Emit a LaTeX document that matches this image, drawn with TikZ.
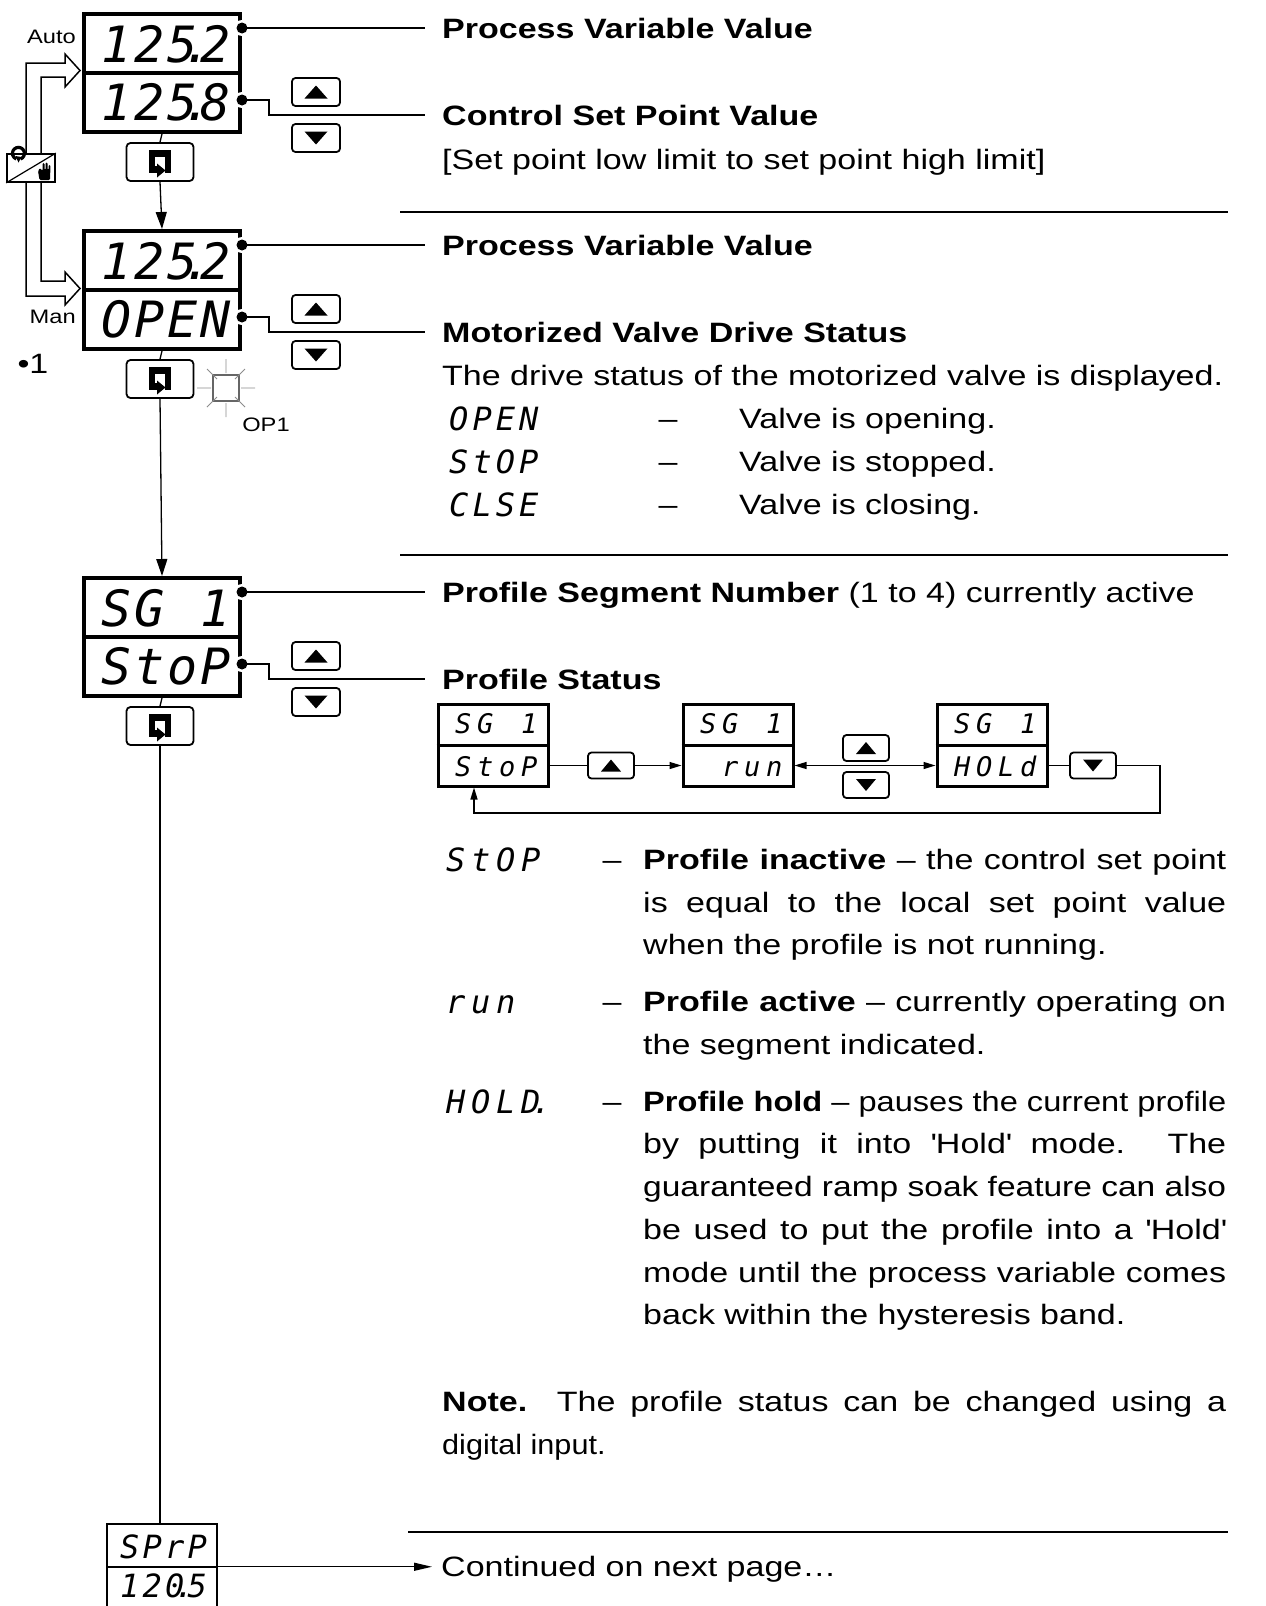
\documentclass[tikz,border=0pt]{standalone}
\usepackage{fontspec}
\usepackage{graphicx}
\setmainfont{Liberation Sans}[FakeStretch=1.215]
\newfontfamily\segfont{DejaVu Sans Mono}
\usetikzlibrary{arrows.meta,calc}
\newcommand\tx{\fontsize{28pt}{34pt}\selectfont}
\newcommand\sm{\fontsize{19.5pt}{22pt}\selectfont}
\newcommand\seg[3]{{\segfont\itshape\fontsize{#1pt}{#1pt}\selectfont\def\segp{#2pt}\segloop#3\relax}}
\def\segloop#1{\ifx#1\relax\else\ifx#1.\makebox[0pt][c]{\hspace*{-3pt}.}\else\makebox[\segp][c]{#1}\fi\expandafter\segloop\fi}
\newsavebox\jbox
\newcommand\jl[2]{\sbox\jbox{#2}\ifdim\wd\jbox>#1pt\resizebox{#1pt}{\ht\jbox}{\usebox\jbox}\else\makebox[#1pt][s]{#2}\fi}
\newcommand\uptri[3]{\fill ($(#1)+(-#2,#3)$) -- ($(#1)+(#2,#3)$) -- ($(#1)+(0,-#3)$) -- cycle;}
\newcommand\dntri[3]{\fill ($(#1)+(-#2,-#3)$) -- ($(#1)+(#2,-#3)$) -- ($(#1)+(0,#3)$) -- cycle;}
\newcommand\entericon[1]{%
  \draw[line width=6.5pt,line cap=butt] ($(#1)+(-1,7.5)$) -- ($(#1)+(-8,7.5)$) -- ($(#1)+(-8,-8.5)$) -- ($(#1)+(8,-8.5)$) -- ($(#1)+(8,7.5)$) -- ($(#1)+(5,7.5)$);
  \fill ($(#1)+(-3,1.5)$) -- ($(#1)+(5.5,8.5)$) -- ($(#1)+(-3,15.5)$) -- cycle;}
\newcommand\dotmark[1]{\fill[white] (#1) circle (8pt); \fill (#1) circle (5.5pt);}
\newcommand\display[4]{%
  \node[disp] (#1) at (82,#2) {};
  \draw[line width=4pt] (#1.west) -- (#1.east);
  \coordinate (#1a) at ($(#1.north east)+(0,16)$);
  \coordinate (#1b) at ($(#1.north east)+(0,88)$);
  \dotmark{#1a}\dotmark{#1b}
  \node[anchor=base east,inner sep=0pt] (#1u) at ($(#1.north east)+(-10,50)$) {\seg{50}{33}{#3}};
  \node[anchor=base east,inner sep=0pt] (#1l) at ($(#1.north east)+(-10,108)$) {\seg{50}{33}{#4}};}
\newcommand\minidisp[4]{%
  \node[mini] (#1) at (#2,745) {};
  \draw[line width=3pt] (#1.west) -- (#1.east);
  \node[anchor=base east,inner sep=0pt] (#1u) at ($(#1.north east)+(-9,31)$) {\seg{27}{22}{#3}};
  \node[anchor=base east,inner sep=0pt] (#1l) at ($(#1.east)+(-9,31)$) {\seg{27}{22}{#4}};
  \coordinate (#1l0) at ($(#1.west)+(0,20.5)$);
  \coordinate (#1r0) at ($(#1.east)+(0,20.5)$);}
\begin{document}
\begin{tikzpicture}[x=1pt,y=-1pt,
  conn/.style={line width=1.3pt},
  arr/.style={conn,-{Triangle[length=17pt,width=11pt]}},
  sarr/.style={conn,-{Triangle[length=12pt,width=7pt]}},
  larr/.style={conn,-{Triangle[length=18pt,width=8pt]}},
  disp/.style={draw,line width=4pt,minimum width=156pt,minimum height=118pt,inner sep=0pt,anchor=north west},
  btn/.style={draw,line width=1.8pt,rounded corners=3.5pt,minimum width=48pt,minimum height=28pt,inner sep=0pt},
  mbtn/.style={btn,minimum width=46pt,minimum height=26pt},
  entr/.style={draw,line width=1.8pt,rounded corners=4pt,minimum width=67pt,minimum height=38pt,inner sep=0pt},
  mini/.style={draw,line width=3pt,minimum width=110pt,minimum height=82pt,inner sep=0pt},
  txt/.style={anchor=base west,inner sep=0pt,font=\tx},
  segt/.style={anchor=base west,inner sep=0pt},
  rule/.style={line width=2pt}]
\useasboundingbox (0,0) rectangle (1266,1606);
\fill[white] (0,0) rectangle (1266,1606);

% ---- main displays
\display{d1}{12}{125.2}{125.8}
\display{d2}{229}{125.2}{OPEN}
\display{d3}{576}{SG~1}{StoP}

% ---- up/down buttons
\node[btn] (u1) at (316,92) {};  \uptri{u1}{11.5}{6.5}
\node[btn] (w1) at (316,138) {}; \dntri{w1}{11.5}{6.5}
\node[btn] (u2) at (316,309) {}; \uptri{u2}{11.5}{6.5}
\node[btn] (w2) at (316,355) {}; \dntri{w2}{11.5}{6.5}
\node[btn] (u3) at (316,656) {}; \uptri{u3}{11.5}{6.5}
\node[btn] (w3) at (316,702) {}; \dntri{w3}{11.5}{6.5}

% ---- enter buttons
\node[entr] (e1) at (160,162) {}; \entericon{e1}
\node[entr] (e2) at (160,379) {}; \entericon{e2}
\node[entr] (e3) at (160,726) {}; \entericon{e3}

% ---- bottom display
\node[draw,line width=1.5pt,minimum width=110pt,minimum height=86pt,inner sep=0pt,anchor=north] (bd) at (162,1523) {};
\draw[line width=1.5pt] (bd.west) -- (bd.east);
\node[anchor=base east,inner sep=0pt] (bdu) at ($(bd.north east)+(-9,35)$) {\seg{32}{22.5}{SPrP}};
\node[anchor=base east,inner sep=0pt] (bdl) at ($(bd.east)+(-9,31)$) {\seg{32}{22.5}{120.5}};

% ---- vertical flow
\draw[conn] (d1.south) -- (e1.north);
\draw[arr] (e1.south) -- (d2.north);
\draw[conn] (d2.south) -- (e2.north);
\draw[arr] (e2.south) -- (d3.north);
\draw[conn] (d3.south) -- (e3.north);
\draw[conn] (e3.south) -- (e3.south |- bd.north);

% ---- auto / manual toggle
\node[draw,line width=1.8pt,minimum width=48pt,minimum height=28pt,inner sep=0pt] (tg) at (31,168) {};
\draw[line width=1.2pt] (tg.south west) -- (tg.north east);
\draw[line width=3.2pt] (20.5,159) arc (70:-250:6);
\fill (15.5,156) -- (21.5,157) -- (18.5,162.5) -- cycle;
\fill[rounded corners=1.2pt] (38,171) -- (39.5,180) -- (50,180) -- (50.5,165) -- (48.5,165) -- (48.5,170) -- (47.5,170) -- (47.5,162.5) -- (45.5,162.5) -- (45.5,170) -- (44.5,170) -- (44.5,163) -- (42.5,163) -- (42.5,171) -- (40,168) -- cycle;
\draw[line width=1.5pt] (tg.north -| 26,0) -- (26,63) -- (65,63) -- (65,54) -- (80,70.5) -- (65,87) -- (65,77) -- (41,77) -- (tg.north -| 41,0);
\draw[line width=1.5pt] (tg.south -| 41,0) -- (41,281) -- (65,281) -- (65,272) -- (80,288.5) -- (65,305) -- (65,296) -- (26,296) -- (tg.south -| 26,0);
\node[anchor=east,inner sep=0pt,font=\sm] (auto) at (76,37) {Auto};
\node[anchor=east,inner sep=0pt,font=\sm] (man) at (76,317) {Man};
\node[inner sep=0pt,font=\tx] (b1) at (33,364) {•1};

% ---- output light
\coordinate (fl) at ($(e2)+(66,9)$);
\draw[black!60,line width=1.6pt] ($(fl)+(-13,-13)$) rectangle ($(fl)+(13,13)$);
\draw[black!45,line width=0.9pt]
  ($(fl)+(-29,0)$) -- ($(fl)+(-15,0)$) ($(fl)+(15,0)$) -- ($(fl)+(29,0)$)
  ($(fl)+(0,-29)$) -- ($(fl)+(0,-15)$) ($(fl)+(0,15)$) -- ($(fl)+(0,29)$)
  ($(fl)+(-9,-9)$) -- ($(fl)+(-19,-19)$) ($(fl)+(9,-9)$) -- ($(fl)+(19,-19)$)
  ($(fl)+(-9,9)$) -- ($(fl)+(-19,19)$) ($(fl)+(9,9)$) -- ($(fl)+(19,19)$);
\node[inner sep=0pt,font=\sm] (op1) at (266,425) {OP1};

% ---- right column, section 1
\node[txt] (t1) at (442,38) {\textbf{Process Variable Value}};
\coordinate (c1) at (425,28);
\draw[conn] (d1a) -- (c1);
\node[txt] (t2) at (442,125) {\textbf{Control Set Point Value}};
\coordinate (c2) at (425,115);
\draw[conn] (d1b) -- ++(27,0) |- (c2);
\node[txt] (t3) at (442,169) {[Set point low limit to set point high limit]};
\draw[rule] (400,212) -- (1228,212);

% ---- section 2
\node[txt] (t4) at (442,255) {\textbf{Process Variable Value}};
\coordinate (c3) at (425,245);
\draw[conn] (d2a) -- (c3);
\node[txt] (t5) at (442,342) {\textbf{Motorized Valve Drive Status}};
\coordinate (c4) at (425,332);
\draw[conn] (d2b) -- ++(27,0) |- (c4);
\node[txt] (t6) at (442,385) {The drive status of the motorized valve is displayed.};
\node[segt] (s1) at (447,430) {\seg{32}{23.3}{OPEN}};
\node[txt,anchor=base] (h1) at (668,428) {–};
\node[txt] (v1) at (739,428) {Valve is opening.};
\node[segt] (s2) at (447,473) {\seg{32}{23.3}{StOP}};
\node[txt,anchor=base] (h2) at (668,471) {–};
\node[txt] (v2) at (739,471) {Valve is stopped.};
\node[segt] (s3) at (447,516) {\seg{32}{23.3}{CLSE}};
\node[txt,anchor=base] (h3) at (668,514) {–};
\node[txt] (v3) at (739,514) {Valve is closing.};
\draw[rule] (400,555) -- (1228,555);

% ---- section 3
\node[txt] (t7) at (442,602) {\textbf{Profile Segment Number} (1 to 4) currently active};
\coordinate (c5) at (425,592);
\draw[conn] (d3a) -- (c5);
\node[txt] (t8) at (442,689) {\textbf{Profile Status}};
\coordinate (c6) at (425,679);
\draw[conn] (d3b) -- ++(27,0) |- (c6);

% ---- mini state diagram
\minidisp{m1}{493}{SG~1}{StoP}
\minidisp{m2}{738}{SG~1}{~run}
\minidisp{m3}{992}{SG~1}{HOLd}
\node[mbtn] (mb1) at (611,765.5) {}; \uptri{mb1}{10}{6}
\node[mbtn] (mb2) at (866,748) {};   \uptri{mb2}{10}{6}
\node[mbtn] (mb3) at (866,785) {};   \dntri{mb3}{10}{6}
\node[mbtn] (mb4) at (1093,765.5) {}; \dntri{mb4}{10}{6}
\coordinate (rx) at (474,813);
\draw[conn] (m1r0) -- (mb1.west);
\draw[sarr] (mb1.east) -- (m2l0);
\draw[conn,{Triangle[length=12pt,width=7pt]}-{Triangle[length=12pt,width=7pt]}] (m2r0) -- (m3l0);
\draw[conn] (m3r0) -- (mb4.west);
\draw[sarr] (mb4.east) -- ++(43,0) |- (rx) -- (m1.south -| rx);

% ---- status explanations
\node[segt] (s4) at (443,871) {\seg{32}{25}{StOP}};
\node[txt,anchor=base] (h4) at (612,869) {–};
\node[txt] (p1) at (643,869) {\jl{583}{\textbf{Profile inactive} – the control set point}};
\node[txt] (p2) at (643,912) {\jl{583}{is equal to the local set point value}};
\node[txt] (p3) at (643,954) {when the profile is not running.};

\node[segt] (s5) at (443,1013) {\seg{32}{25}{run}};
\node[txt,anchor=base] (h5) at (612,1011) {–};
\node[txt] (p4) at (643,1011) {\jl{583}{\textbf{Profile active} – currently operating on}};
\node[txt] (p5) at (643,1054) {the segment indicated.};

\node[segt] (s6) at (443,1113) {\seg{32}{25}{HOLD.}};
\node[txt,anchor=base] (h6) at (612,1111) {–};
\node[txt] (p6) at (643,1111) {\jl{583}{\textbf{Profile hold} – pauses the current profile}};
\node[txt] (p7) at (643,1153) {\jl{583}{by putting it into \textquotesingle Hold\textquotesingle\ mode. The}};
\node[txt] (p8) at (643,1196) {\jl{583}{guaranteed ramp soak feature can also}};
\node[txt] (p9) at (643,1239) {\jl{583}{be used to put the profile into a \textquotesingle Hold\textquotesingle}};
\node[txt] (p10) at (643,1282) {\jl{583}{mode until the process variable comes}};
\node[txt] (p11) at (643,1324) {back within the hysteresis band.};

\node[txt] (n1) at (442,1411) {\jl{784}{\textbf{Note.}\ \ The profile status can be changed using a}};
\node[txt] (n2) at (442,1454) {\scalebox{0.9}[1]{digital input.}};

\draw[rule] (408,1532) -- (1228,1532);
\node[txt] (cont) at (441,1576) {Continued on next page…};
\draw[larr,shorten >=9pt] (bd.east) -- (bd.east -| cont.west);
\end{tikzpicture}
\end{document}
